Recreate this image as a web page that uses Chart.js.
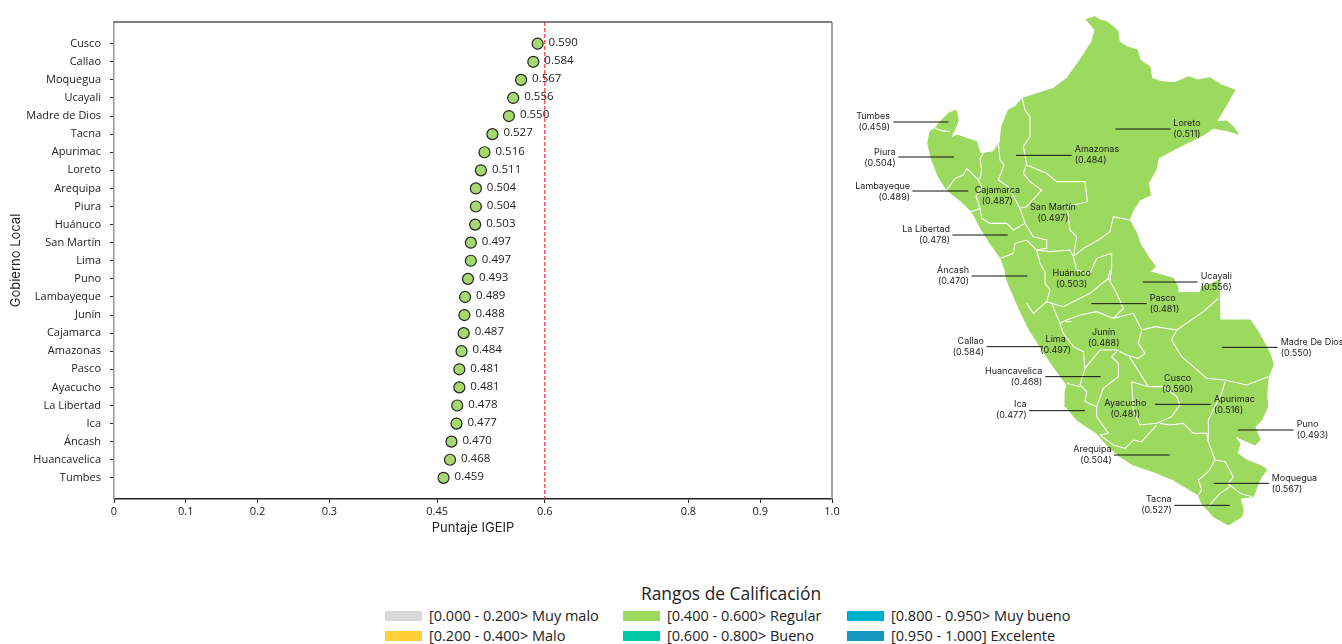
<!DOCTYPE html>
<html lang="es">
<head>
<meta charset="utf-8">
<title>Puntaje IGEIP</title>
<script src="https://cdn.jsdelivr.net/npm/chart.js@4"></script>
<style>
    html, body { margin: 0; padding: 0; background: #fff; overflow: hidden; width: 1342px; height: 644px; }
    canvas { position: absolute; top: 0; }
    #chart-scores { left: 0; }
    #chart-map { left: 840px; }
    #legend-title { position: absolute; left: 531px; top: 581px; width: 400px; text-align: center; font: 17.4px "Open Sans", sans-serif; color: #222; }
    .legend-item { position: absolute; font: 14.5px "Open Sans", sans-serif; color: #222; white-space: nowrap; line-height: 20px; }
    .legend-item i { position: absolute; left: -44px; top: 5px; width: 37px; height: 10px; }
</style>
</head>
<body>
<canvas id="chart-scores" width="840" height="540"></canvas>
<canvas id="chart-map" width="502" height="540"></canvas>
<div id="legend-title">Rangos de Calificación</div>
<div id="legend"></div>
<script>
// datos del grafico de puntos
const regions = ['Cusco', 'Callao', 'Moquegua', 'Ucayali', 'Madre de Dios', 'Tacna', 'Apurimac', 'Loreto', 'Arequipa', 'Piura', 'Huánuco', 'San Martín', 'Lima', 'Puno', 'Lambayeque', 'Junín', 'Cajamarca', 'Amazonas', 'Pasco', 'Ayacucho', 'La Libertad', 'Ica', 'Áncash', 'Huancavelica', 'Tumbes'];
const scores = [0.590, 0.584, 0.567, 0.556, 0.550, 0.527, 0.516, 0.511, 0.504, 0.504, 0.503, 0.497, 0.497, 0.493, 0.489, 0.488, 0.487, 0.484, 0.481, 0.481, 0.478, 0.477, 0.470, 0.468, 0.459];
const xTickValues = [0, 0.1, 0.2, 0.3, 0.45, 0.6, 0.8, 0.9, 1];
const xTickLabels = ['0', '0.1', '0.2', '0.3', '0.45', '0.6', '0.8', '0.9', '1.0'];
const threshold = 0.6;

// leyenda
const rangeLabels = ['[0.000 - 0.200> Muy malo', '[0.200 - 0.400> Malo', '[0.400 - 0.600> Regular', '[0.600 - 0.800> Bueno', '[0.800 - 0.950> Muy bueno', '[0.950 - 1.000] Excelente'];
const rangeColors = ['#d9d9d9', '#ffcf33', '#9bd95f', '#00c9a7', '#00afcb', '#1597bf'];

// contorno del mapa, en unidades propias del mapa
const outlineNorthEast = [[708,28],[735,20],[750,30],[770,35],[790,50],[803,62],[808,95],[830,110],[862,120],[870,150],[900,170],[905,205],[935,215],[975,218],[1015,200],[1045,210],[1080,203],[1115,225],[1155,240],[1100,335],[1130,333],[1150,350],[1165,372],[1130,362],[1090,355],[1060,375],[1010,400],[960,425],[925,445],[918,480],[895,520],[902,555],[870,570],[850,600],[838,630],[858,665],[870,700],[895,740],[917,770],[900,785]];
const outlineSouth = [[820,25],[833,50],[833,68],[900,68],[905,50],[925,45],[960,30],[958,80],[960,150],[1010,150],[1050,150],[1075,185],[1110,250],[1120,285],[1105,320],[1100,375],[1103,410],[1085,450],[1065,470],[1080,510],[1065,525],[1030,510],[1003,497],[1020,520],[1012,550],[1040,570],[1090,590],[1100,600],[1085,620],[1075,640],[1060,680],[1020,685],[1030,720],[1025,740],[985,765],[940,740],[905,700],[895,675],[820,630],[760,605],[700,585],[660,560],[625,530],[590,490],[530,450],[497,410],[495,370],[500,345],[460,290],[420,230],[385,175],[350,100],[320,30],[315,0]];
const outlineNorthWest = [[452,745],[420,700],[395,660],[365,605],[335,575],[290,540],[265,500],[245,450],[233,400],[240,365],[255,355],[270,335],[295,310],[318,300],[325,330],[320,345],[302,385],[320,375],[350,385],[380,395],[390,430],[400,430],[430,425],[445,402],[450,400],[455,350],[475,300],[495,290],[517,265],[610,235],[650,205],[690,150],[725,95],[735,60]];

// limites departamentales
const bordersNorth = [
    [[255,355],[275,362],[300,365]],
    [[400,430],[390,445],[395,480],[390,505],[385,510],[350,475],[340,495],[315,505],[290,540]],
    [[385,510],[395,530],[378,560],[390,595],[365,605]],
    [[390,595],[395,625],[420,640],[470,640],[490,660],[525,640]],
    [[445,402],[450,450],[462,465],[445,510],[475,530],[510,595],[525,640]],
    [[517,265],[525,300],[540,320],[540,380],[520,410],[530,460]],
    [[530,460],[520,490],[540,515],[575,540],[530,590],[510,595]],
    [[530,465],[590,490],[620,515],[705,515],[712,575],[650,590]],
    [[650,590],[660,660],[680,680],[670,740]],
    [[525,640],[550,680],[590,690],[590,715],[560,720]],
    [[670,740],[700,715],[745,690],[780,665],[790,620],[838,630]],
    [[452,745],[490,730],[495,700],[530,690],[560,720]],
    [[560,720],[600,725],[660,720],[670,740]],
    [[670,740],[680,780],[720,790],[740,745],[785,730],[785,770],[780,810]],
    [[560,720],[570,760],[585,785]]
];
const bordersSouth = [
    [[435,5],[435,40],[450,60],[440,95]],
    [[380,100],[400,130],[440,95]],
    [[440,95],[490,110],[530,90],[570,70],[625,25],[630,0]],
    [[625,25],[650,70],[670,115],[640,145]],
    [[440,95],[455,100],[480,160],[490,190],[520,230],[550,245],[555,295]],
    [[480,160],[500,150],[540,135],[590,125],[640,145],[700,130],[725,180]],
    [[725,180],[765,170],[830,180]],
    [[725,180],[715,220],[735,250],[715,265],[680,255],[650,240],[600,240],[555,295]],
    [[555,295],[540,345],[560,365],[555,395],[590,410]],
    [[590,410],[610,355],[655,320],[655,280],[635,260],[650,245]],
    [[500,340],[540,350]],
    [[590,410],[590,440],[625,490],[600,495]],
    [[600,495],[640,525],[675,535],[700,510],[725,515],[770,465]],
    [[695,335],[700,420],[720,465],[770,460],[815,440],[840,405],[830,380],[790,350],[745,350],[695,335]],
    [[685,255],[720,310],[745,350]],
    [[780,460],[810,465],[850,460],[880,490],[920,490],[925,515]],
    [[925,515],[925,450],[965,370],[975,335]],
    [[975,330],[920,325],[880,290],[845,260],[815,210],[830,180],[910,125],[955,85]],
    [[975,330],[1040,345],[1105,320]],
    [[925,515],[945,570],[975,575],[1000,620]],
    [[945,570],[925,605],[895,630],[905,660],[895,675]],
    [[1000,620],[985,640],[1020,670],[1055,680]],
    [[985,640],[990,650],[960,670],[925,710]],
    [[497,155],[515,155]]
];

// etiquetas del mapa
const mapNames = ['Tumbes', 'Piura', 'Lambayeque', 'La Libertad', 'Áncash', 'Loreto', 'Amazonas', 'Cajamarca', 'San Martín', 'Huánuco', 'Ucayali', 'Pasco', 'Madre De Dios', 'Junín', 'Lima', 'Callao', 'Huancavelica', 'Cusco', 'Apurimac', 'Ayacucho', 'Ica', 'Puno', 'Arequipa', 'Moquegua', 'Tacna'];
const mapScores = ['(0.459)', '(0.504)', '(0.489)', '(0.478)', '(0.470)', '(0.511)', '(0.484)', '(0.487)', '(0.497)', '(0.503)', '(0.556)', '(0.481)', '(0.550)', '(0.488)', '(0.497)', '(0.584)', '(0.468)', '(0.590)', '(0.516)', '(0.481)', '(0.477)', '(0.493)', '(0.504)', '(0.567)', '(0.527)'];
const mapTextX = [120, 137, 180, 300, 357, 970, 674, 442, 609, 665, 1052, 899, 1292, 761, 617, 402, 577, 983, 1092, 826, 530, 1340, 785, 1265, 965];
const mapTextY = [318, 426, 528, 657, 781, 341, 419, 542, 591, 791, 800, 864, 996, 968, 988, 994, 1084, 1106, 1167, 1180, 1184, 1242, 1319, 1404, 1469];
const mapTextAlign = ['right', 'right', 'right', 'right', 'right', 'left', 'left', 'center', 'center', 'center', 'left', 'left', 'left', 'center', 'center', 'right', 'right', 'center', 'left', 'center', 'right', 'left', 'right', 'left', 'right'];
const leaders = [
    [[130,336],[295,336]], [[145,441],[312,441]], [[187,543],[355,543]], [[307,675],[473,675]], [[365,798],[532,798]],
    [[796,357],[962,357]], [[498,436],[665,436]], [[878,816],[1043,816]], [[724,881],[890,881]], [[1116,1012],[1283,1012]],
    [[410,1010],[575,1010]], [[586,1100],[752,1100]], [[915,1183],[1082,1183]], [[537,1202],[705,1202]], [[1164,1260],[1331,1260]],
    [[792,1335],[959,1335]], [[1091,1420],[1257,1420]], [[973,1486],[1139,1486]]
];

const toPoints = (list, dx = 0, dy = 0) => list.map(p => ({x: p[0] + dx, y: p[1] + dy}));
const southDx = 150; // el tramo sur se midio con otro origen
const southDy = 780;

const textColor = '#222';
const tickFont = {family: '"Open Sans", sans-serif', size: 11};
const titleFont = {family: 'Inter, sans-serif', size: 13};

// marco y etiquetas de valor
const scoresPlugin = {
    id: 'scoresPlugin',
    afterDatasetsDraw(chart) {
        const {ctx, chartArea, scales} = chart;
        ctx.save();
        ctx.lineWidth = 1.5;
        ctx.strokeStyle = '#555';
        ctx.beginPath();
        ctx.moveTo(chartArea.left, chartArea.top);
        ctx.lineTo(chartArea.right, chartArea.top);
        ctx.stroke();
        ctx.strokeStyle = '#888';
        ctx.beginPath();
        ctx.moveTo(chartArea.right, chartArea.top);
        ctx.lineTo(chartArea.right, chartArea.bottom);
        ctx.stroke();
        ctx.fillStyle = textColor;
        ctx.font = '11.5px "Open Sans", sans-serif';
        ctx.textBaseline = 'middle';
        scores.forEach((value, index) => {
            ctx.fillText(value.toFixed(3), scales.x.getPixelForValue(value) + 11, scales.y.getPixelForValue(index) - 1);
        });
        ctx.restore();
    }
};

new Chart(document.getElementById('chart-scores'), {
    type: 'scatter',
    data: {
        datasets: [{
            data: scores.map((value, index) => ({x: value, y: index})),
            backgroundColor: '#a5d86f',
            borderColor: '#222',
            borderWidth: 1.2,
            pointRadius: 5.5
        }, {
            data: [{x: threshold, y: -1.2}, {x: threshold, y: 25.17}],
            showLine: true,
            borderColor: '#ff1f1f',
            borderWidth: 1.1,
            borderDash: [4, 2],
            pointRadius: 0
        }]
    },
    options: {
        responsive: false,
        animation: false,
        layout: {padding: {top: 22, right: 8, left: 0, bottom: 0}},
        plugins: {legend: {display: false}, tooltip: {enabled: false}},
        scales: {
            x: {
                type: 'linear',
                min: 0,
                max: 1,
                afterFit: scale => {
                    scale.height = 41;
                    scale.paddingLeft = 0; // sin esto el ultimo rotulo encoge el area
                    scale.paddingRight = 0;
                },
                afterBuildTicks: scale => { scale.ticks = xTickValues.map(value => ({value})); },
                ticks: {
                    autoSkip: false,
                    maxRotation: 0,
                    color: textColor,
                    font: tickFont,
                    padding: 2,
                    callback: value => xTickLabels[xTickValues.indexOf(value)]
                },
                grid: {drawOnChartArea: false, tickLength: 4, tickColor: '#222'},
                border: {color: '#222', width: 1.5},
                title: {display: true, text: 'Puntaje IGEIP', color: textColor, font: titleFont, padding: {top: 2, bottom: 4}}
            },
            y: {
                type: 'linear',
                reverse: true,
                min: -1.2,
                max: 25.17,
                afterFit: scale => { scale.width = 114; },
                afterBuildTicks: scale => { scale.ticks = regions.map((name, index) => ({value: index})); },
                ticks: {
                    autoSkip: false,
                    color: textColor,
                    font: tickFont,
                    padding: 9,
                    callback: value => regions[value]
                },
                grid: {drawOnChartArea: false, tickLength: 4, tickColor: '#222'},
                border: {color: '#999', width: 1.5},
                title: {display: true, text: 'Gobierno Local', color: textColor, font: titleFont, padding: {top: 8, bottom: 0}}
            }
        }
    },
    plugins: [scoresPlugin]
});

// mapa: contorno relleno, limites en blanco y lineas guia
const mapPlugin = {
    id: 'mapPlugin',
    afterDatasetsDraw(chart) {
        const {ctx, scales} = chart;
        ctx.save();
        ctx.fillStyle = textColor;
        ctx.font = '9px Inter, sans-serif';
        ctx.textBaseline = 'middle';
        mapNames.forEach((name, index) => {
            const x = scales.x.getPixelForValue(mapTextX[index]);
            ctx.textAlign = mapTextAlign[index];
            ctx.fillText(name, x, scales.y.getPixelForValue(mapTextY[index]));
            ctx.fillText(mapScores[index], x, scales.y.getPixelForValue(mapTextY[index] + 33));
        });
        ctx.restore();
    }
};

const outline = [
    ...toPoints(outlineNorthEast),
    ...toPoints(outlineSouth, southDx, southDy),
    ...toPoints(outlineNorthWest)
];
outline.push(outline[0]);

const borderDataset = points => ({data: points, showLine: true, borderColor: '#fff', borderWidth: 1.1, pointRadius: 0, tension: 0});
const leaderDataset = points => ({data: points, showLine: true, borderColor: '#111', borderWidth: 1, pointRadius: 0});

// chart.js pinta primero el ultimo dataset, por eso el relleno va al final
new Chart(document.getElementById('chart-map'), {
    type: 'scatter',
    data: {
        datasets: [
            ...leaders.map(line => leaderDataset(toPoints(line))),
            ...bordersNorth.map(line => borderDataset(toPoints(line))),
            ...bordersSouth.map(line => borderDataset(toPoints(line, southDx, southDy))),
            {data: outline, showLine: true, fill: 'shape', backgroundColor: '#9bd95f', borderColor: '#9bd95f', borderWidth: 1, pointRadius: 0}
        ]
    },
    options: {
        responsive: false,
        animation: false,
        plugins: {legend: {display: false}, tooltip: {enabled: false}},
        scales: {
            x: {type: 'linear', display: false, min: -30, max: 1476},
            y: {type: 'linear', display: false, reverse: true, min: -30, max: 1590}
        }
    },
    plugins: [mapPlugin]
});

// leyenda de rangos
const legendColumns = [429, 667, 891];
const legendRows = [606, 626];
const legendBox = document.getElementById('legend');
rangeLabels.forEach((label, index) => {
    const item = document.createElement('div');
    item.className = 'legend-item';
    item.style.left = legendColumns[Math.floor(index / 2)] + 'px';
    item.style.top = legendRows[index % 2] + 'px';
    item.textContent = label;
    const swatch = document.createElement('i');
    swatch.style.background = rangeColors[index];
    item.appendChild(swatch);
    legendBox.appendChild(item);
});
</script>
</body>
</html>
